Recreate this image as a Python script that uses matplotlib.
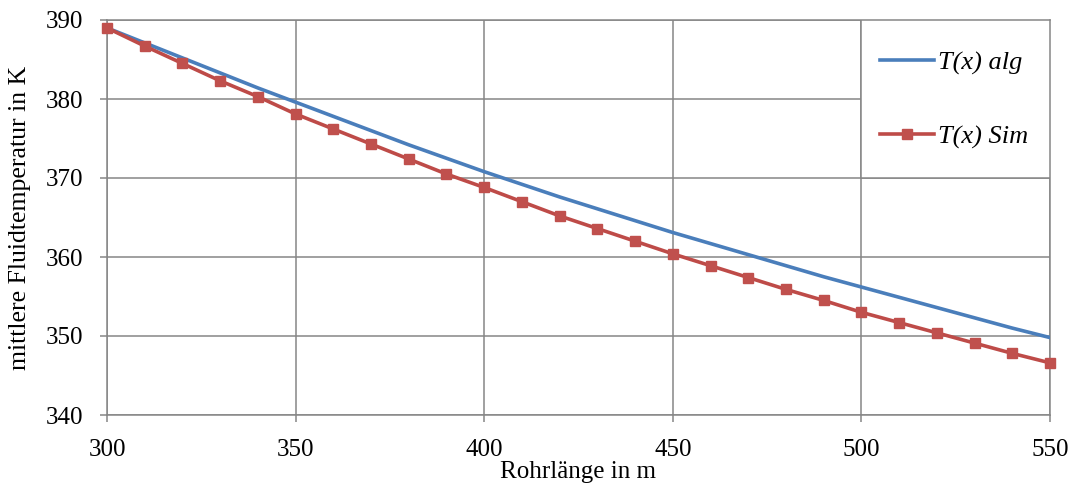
import matplotlib.pyplot as plt
from matplotlib.patches import Rectangle

plt.rcParams['font.family'] = ['Liberation Serif', 'DejaVu Serif']

# Rohrlänge in m
x = [300, 310, 320, 330, 340, 350, 360, 370, 380, 390, 400, 410, 420,
     430, 440, 450, 460, 470, 480, 490, 500, 510, 520, 530, 540, 550]

# T(x) alg (analytisch)
t_alg = [389.0, 387.1, 385.2, 383.3, 381.4, 379.6, 377.8, 376.0, 374.2,
         372.5, 370.8, 369.2, 367.6, 366.1, 364.6, 363.1, 361.7, 360.3,
         358.9, 357.5, 356.2, 354.9, 353.6, 352.3, 351.0, 349.8]

# T(x) Sim
t_sim = [389.0, 386.7, 384.5, 382.3, 380.3, 378.1, 376.2, 374.3, 372.4,
         370.5, 368.8, 367.0, 365.2, 363.6, 362.0, 360.4, 358.9, 357.4,
         355.9, 354.5, 353.0, 351.7, 350.4, 349.1, 347.8, 346.6]

grey = '#868686'

fig = plt.figure(figsize=(10.71, 4.84), dpi=100)
ax = fig.add_axes([107/1071, 1 - 415/484, (1050 - 107)/1071, (415 - 20)/484])

ax.plot(x, t_alg, color='#4A7EBB', lw=2.6, label='T(x) alg', zorder=3)
ax.plot(x, t_sim, color='#BE4B48', lw=2.6, marker='s', markersize=7.5,
        markerfacecolor='#C0504D', markeredgecolor='#C0504D',
        label='T(x) Sim', zorder=4, clip_on=False)

ax.set_xlim(300, 550)
ax.set_ylim(340, 390)
ax.set_xticks(range(300, 551, 50))
ax.set_yticks(range(340, 391, 10))
ax.grid(True, color=grey, lw=1.1)
ax.set_axisbelow(True)
for s in ax.spines.values():
    s.set_color(grey)
    s.set_linewidth(1.1)
ax.tick_params(colors=grey, labelcolor='black', labelsize=18,
               length=5, width=1.1, direction='out')
ax.tick_params(axis='y', pad=12)
ax.tick_params(axis='x', pad=12)

ax.set_xlabel('Rohrlänge in m', fontsize=18, labelpad=0)
ax.set_ylabel('mittlere Fluidtemperatur in K', fontsize=18.5, labelpad=11)

# Legendenfläche (weiß, grauer Rahmen)
ax.add_patch(Rectangle((0.8, 0.6), 0.2, 0.4, transform=ax.transAxes,
                       facecolor='white', edgecolor=grey, lw=1.1, zorder=5))
leg = ax.legend(loc='upper left', bbox_to_anchor=(0.8197, 0.922),
                prop={'style': 'italic', 'size': 19},
                frameon=False, handlelength=2.05, handletextpad=0.15,
                labelspacing=1.9, borderpad=0, borderaxespad=0)
leg.set_zorder(6)

fig.savefig('out.png', dpi=100)
